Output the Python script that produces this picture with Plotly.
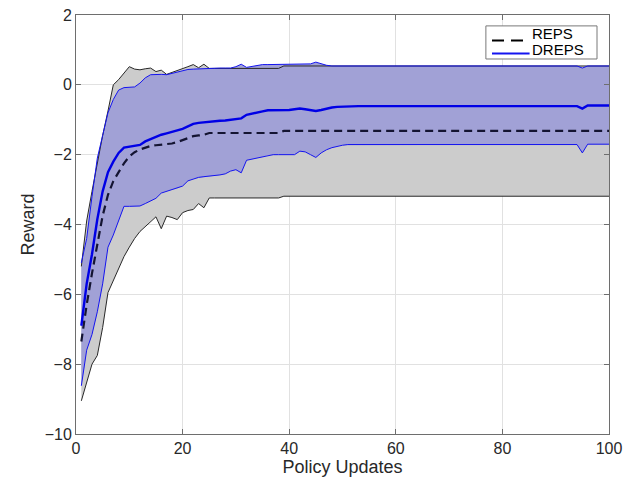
import plotly.graph_objects as go

x = list(range(1, 101))

reps_mean = [-7.35, -6.3, -5.4, -4.6, -3.75, -3.15, -2.76, -2.5, -2.25, -2.05,
             -1.93, -1.85, -1.8, -1.75, -1.73, -1.72, -1.71, -1.68, -1.64, -1.59,
             -1.52, -1.47, -1.45, -1.43] + [-1.38] * 14 + [-1.32] * 62

reps_upper = [-5.2, -3.9, -3.05, -2.2, -1.45, -0.75, 0.0, 0.15, 0.35, 0.52,
              0.45, 0.43, 0.46, 0.48, 0.38, 0.42, 0.3, 0.35, 0.4, 0.46,
              0.52, 0.58, 0.49, 0.59] + [0.47] * 14 + [0.54] * 62

reps_lower = [-9.05, -8.55, -8.0, -7.75, -6.95, -5.95, -5.6, -5.25, -4.92, -4.65,
              -4.4, -4.2, -4.05, -3.9, -3.78, -4.12, -3.76, -3.8, -3.86, -3.66,
              -3.6, -3.57, -3.4, -3.52] + [-3.24] * 14 + [-3.19] * 62

dreps_mean = [-6.9, -5.7, -4.85, -3.85, -3.05, -2.5, -2.2, -1.95, -1.8, -1.78,
              -1.76, -1.72, -1.62, -1.55, -1.48, -1.43, -1.39, -1.35, -1.31, -1.26,
              -1.19, -1.12, -1.09, -1.07, -1.05, -1.04, -1.03, -1.02, -1.0, -0.98,
              -0.96, -0.86, -0.82, -0.79, -0.76, -0.73, -0.73, -0.73, -0.73, -0.72,
              -0.7, -0.68, -0.7, -0.73, -0.75, -0.72, -0.68, -0.65, -0.63, -0.62] \
             + [-0.61] * 44 + [-0.68] + [-0.59] * 5

dreps_upper = [-5.1, -4.4, -3.2, -2.1, -1.45, -0.8, -0.42, -0.15, -0.08, -0.07,
               -0.06, 0.05, 0.2, 0.29, 0.3, 0.3, 0.29, 0.33, 0.38, 0.42,
               0.44, 0.45, 0.46, 0.47, 0.48, 0.48, 0.48, 0.48, 0.48, 0.52,
               0.59, 0.5, 0.53, 0.56, 0.58, 0.58, 0.58, 0.58, 0.58, 0.58,
               0.58, 0.58, 0.58, 0.6, 0.65, 0.6, 0.56] + [0.54] * 47 + [0.48] + [0.54] * 5

dreps_lower = [-8.62, -7.6, -7.15, -6.5, -5.7, -4.65, -4.3, -3.9, -3.48, -3.48,
               -3.48, -3.47, -3.4, -3.33, -3.25, -3.1, -3.05, -3.0, -2.97, -2.9,
               -2.75, -2.69, -2.65, -2.63, -2.62, -2.6, -2.58, -2.55, -2.47, -2.43,
               -2.52, -2.16, -2.13, -2.1, -2.07, -2.02, -2.0, -2.0, -2.0, -2.0,
               -2.0, -1.9, -1.92, -2.0, -2.08, -1.95, -1.86, -1.8, -1.76, -1.73] \
              + [-1.71] * 44 + [-1.95] + [-1.7] * 5

x_ticks = [0, 20, 40, 60, 80, 100]
y_ticks = [2, 0, -2, -4, -6, -8, -10]
legend_names = ["REPS", "DREPS"]

GREY_FILL = "rgb(204,204,204)"
BLUE_FILL = "rgb(161,161,214)"
BLUE = "rgb(20,20,240)"
MEAN_BLUE = "rgb(0,0,230)"
DASH_COL = "rgb(20,20,50)"
FONT = "Liberation Sans, Arial"
TXT = "rgb(40,40,40)"

fig = go.Figure()

# REPS band
fig.add_trace(go.Scatter(x=x + x[::-1], y=reps_upper + reps_lower[::-1],
                         fill="toself", fillcolor=GREY_FILL, mode="lines",
                         line=dict(color="rgba(0,0,0,0)", width=0),
                         showlegend=False, hoverinfo="skip"))
# DREPS band
fig.add_trace(go.Scatter(x=x + x[::-1], y=dreps_upper + dreps_lower[::-1],
                         fill="toself", fillcolor=BLUE_FILL, mode="lines",
                         line=dict(color="rgba(0,0,0,0)", width=0),
                         showlegend=False, hoverinfo="skip"))
# REPS edges
for ys in (reps_upper, reps_lower):
    fig.add_trace(go.Scatter(x=x, y=ys, mode="lines",
                             line=dict(color="rgb(40,40,40)", width=1),
                             showlegend=False, hoverinfo="skip"))
# DREPS edges
for ys in (dreps_upper, dreps_lower):
    fig.add_trace(go.Scatter(x=x, y=ys, mode="lines",
                             line=dict(color=BLUE, width=1),
                             showlegend=False, hoverinfo="skip"))

fig.add_trace(go.Scatter(x=x, y=reps_mean, mode="lines", name=legend_names[0],
                         showlegend=False,
                         line=dict(color=DASH_COL, width=2.2, dash="8px,5px")))
fig.add_trace(go.Scatter(x=x, y=dreps_mean, mode="lines", name=legend_names[1],
                         showlegend=False,
                         line=dict(color=MEAN_BLUE, width=2.4)))

axis_common = dict(showgrid=True, gridcolor="rgb(225,225,225)", gridwidth=1,
                   zeroline=False, showline=True, linecolor="rgb(110,110,110)",
                   linewidth=1, mirror="ticks", ticks="inside", ticklen=5,
                   tickcolor="rgb(110,110,110)", automargin=False,
                   ticklabeloverflow="allow",
                   tickfont=dict(family=FONT, size=16, color=TXT))

fig.update_xaxes(range=[0, 100], tickvals=x_ticks, **axis_common,
                 title=dict(text="Policy Updates", standoff=0,
                            font=dict(family=FONT, size=18, color=TXT)))
fig.update_yaxes(range=[-10, 2], tickvals=y_ticks, **axis_common,
                 title=dict(text="Reward", standoff=5,
                            font=dict(family=FONT, size=18, color=TXT)))

# custom compact legend (box, line samples, labels) in paper coordinates
fig.add_shape(type="rect", xref="paper", yref="paper",
              x0=0.769, x1=0.9775, y0=0.895, y1=0.974,
              fillcolor="white", line=dict(color="rgb(120,120,120)", width=1), layer="above")
fig.add_shape(type="line", xref="paper", yref="paper",
              x0=0.7805, x1=0.8405, y0=0.9393, y1=0.9393,
              line=dict(color="black", width=2, dash="12px,7px"), layer="above")
fig.add_shape(type="line", xref="paper", yref="paper",
              x0=0.7805, x1=0.851, y0=0.9083, y1=0.9083,
              line=dict(color=BLUE, width=2), layer="above")
for name, yy in zip(legend_names, [0.956, 0.9167]):
    fig.add_annotation(text=name, xref="paper", yref="paper", x=0.853, y=yy,
                       xanchor="left", yanchor="middle", showarrow=False,
                       borderpad=0,
                       font=dict(family=FONT, size=15, color="black"))

fig.update_layout(
    width=644, height=483,
    margin=dict(l=68, r=43, t=7, b=57, autoexpand=False),
    plot_bgcolor="white", paper_bgcolor="white",
    showlegend=False,
)

fig.write_html("out.html")
